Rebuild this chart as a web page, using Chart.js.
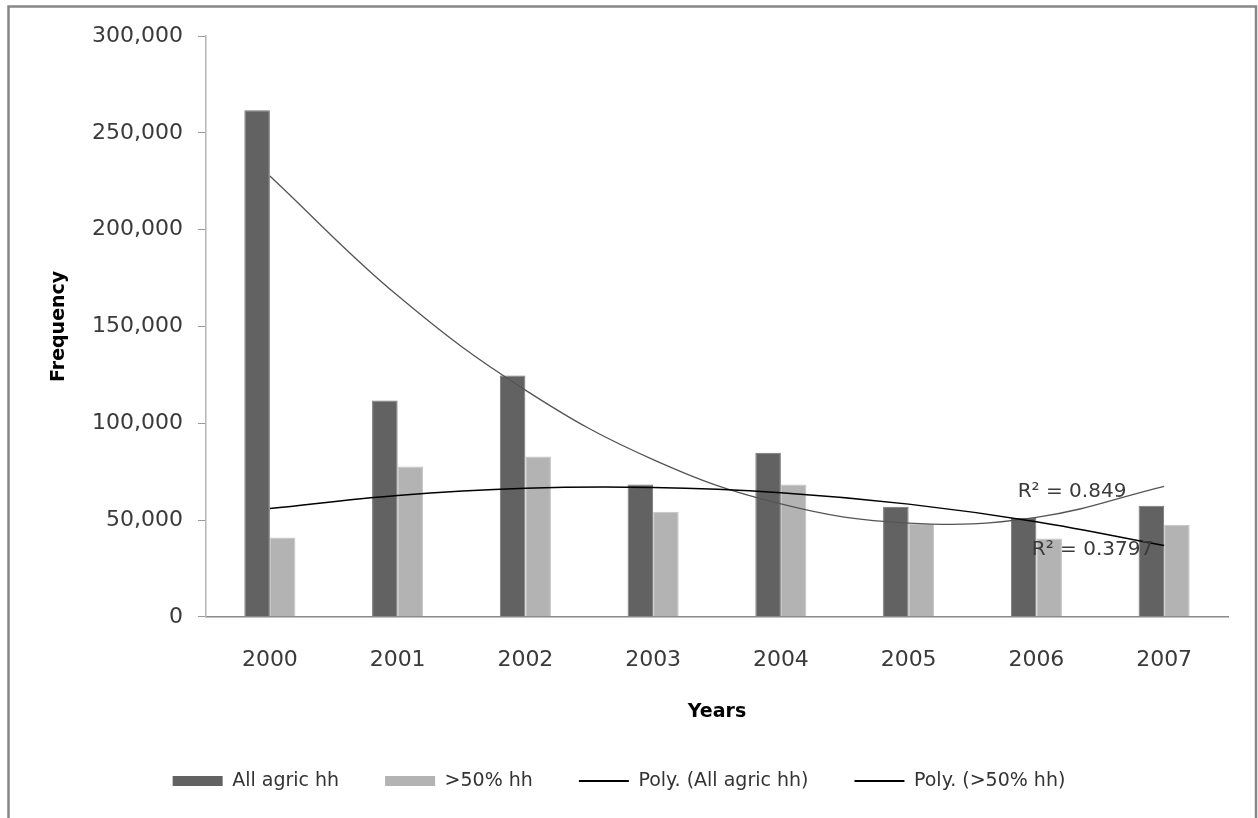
<!DOCTYPE html>
<html>
<head>
<meta charset="utf-8">
<style>
  html, body { margin: 0; padding: 0; background: #fff; }
  #wrap { position: relative; width: 1258px; height: 818px; }
</style>
<script src="https://cdn.jsdelivr.net/npm/chart.js@4.4.1/dist/chart.umd.min.js"></script>
</head>
<body>
<div id="wrap"><canvas id="c" width="1258" height="818"></canvas></div>
<script>
// ---- Data ----
const years = ['2000', '2001', '2002', '2003', '2004', '2005', '2006', '2007'];
const allAgricHH = [261700, 111700, 124700, 68300, 84800, 56900, 51000, 57400];
const over50HH   = [40900, 77600, 82800, 54300, 68300, 47900, 40500, 47600];
// Polynomial (order 2) trendline values read at each year
const polyAllAgric = [227700, 165900, 117100, 81200, 58300, 48400, 51400, 67400];
const polyOver50   = [55900, 62700, 66400, 66800, 64100, 58200, 49100, 36800];
const seriesNames = ['All agric hh', '>50% hh', 'Poly. (All agric hh)', 'Poly. (>50% hh)'];
const yTickValues = [0, 50000, 100000, 150000, 200000, 250000, 300000];
const rSquaredLabels = ['R\u00B2 = 0.849', 'R\u00B2 = 0.3797'];

const FONT = "'DejaVu Sans', sans-serif";

const framePlugin = {
  id: 'frame',
  beforeDraw(chart) {
    const ctx = chart.ctx;
    ctx.save();
    ctx.fillStyle = '#ffffff';
    ctx.fillRect(0, 0, chart.width, chart.height);
    ctx.strokeStyle = '#878787';
    ctx.lineWidth = 2.5;
    ctx.strokeRect(8.5, 6.5, 1247.5, 840);
    ctx.restore();
  }
};

const r2Plugin = {
  id: 'r2labels',
  afterDatasetsDraw(chart) {
    const ctx = chart.ctx;
    const xs = chart.scales.x, ys = chart.scales.y;
    const spots = [
      { text: rSquaredLabels[0], xi: 5.854, yv: 64650 },
      { text: rSquaredLabels[1], xi: 5.964, yv: 34650 }
    ];
    ctx.save();
    ctx.font = "20px " + FONT;
    ctx.fillStyle = '#3a3a3a';
    ctx.textAlign = 'left';
    ctx.textBaseline = 'middle';
    spots.forEach(s => {
      ctx.fillText(s.text, xs.getPixelForValue(s.xi), ys.getPixelForValue(s.yv));
    });
    ctx.restore();
  }
};

const ctx = document.getElementById('c').getContext('2d');
new Chart(ctx, {
  data: {
    labels: years,
    datasets: [
      {
        type: 'bar', label: seriesNames[0], data: allAgricHH,
        backgroundColor: '#626262', borderColor: '#767676', borderWidth: 1,
        categoryPercentage: 0.4, barPercentage: 1.0, order: 1
      },
      {
        type: 'bar', label: seriesNames[1], data: over50HH,
        backgroundColor: '#b3b3b3', borderColor: '#c4c4c4', borderWidth: 1,
        categoryPercentage: 0.4, barPercentage: 1.0, order: 2
      },
      {
        type: 'line', label: seriesNames[2], data: polyAllAgric,
        borderColor: '#555555', borderWidth: 1.3, pointRadius: 0, tension: 0.4,
        fill: false, order: -1
      },
      {
        type: 'line', label: seriesNames[3], data: polyOver50,
        borderColor: '#000000', borderWidth: 1.5, pointRadius: 0, tension: 0.4,
        fill: false, order: -2
      }
    ]
  },
  options: {
    responsive: false,
    animation: false,
    layout: { padding: { left: 10, right: 30, top: 36, bottom: 17.6 } },
    plugins: {
      tooltip: { enabled: false },
      legend: {
        display: true,
        position: 'bottom',
        labels: {
          usePointStyle: true,
          pointStyleWidth: 50,
          boxHeight: 10,
          padding: 46,
          color: '#333333',
          font: { family: FONT, size: 19 },
          sort: (a, b) => a.datasetIndex - b.datasetIndex,
          generateLabels(chart) {
            const items = Chart.defaults.plugins.legend.labels.generateLabels(chart);
            items.forEach(it => {
              const ds = chart.data.datasets[it.datasetIndex];
              if (ds.type === 'bar') {
                it.pointStyle = 'rect';
                it.fillStyle = ds.backgroundColor;
                it.strokeStyle = ds.backgroundColor;
                it.lineWidth = 0;
              } else {
                it.pointStyle = 'line';
                it.strokeStyle = '#000000';
                it.lineWidth = 2;
              }
            });
            return items;
          }
        }
      }
    },
    scales: {
      x: {
        type: 'category',
        offset: true,
        grid: { display: true, drawOnChartArea: false, drawTicks: false },
        border: { display: true, color: '#8a8a8a', width: 1.5 },
        ticks: { color: '#3a3a3a', font: { family: FONT, size: 22 }, padding: 30, maxRotation: 0 },
        title: {
          display: true, text: 'Years', color: '#000',
          font: { family: FONT, size: 19, weight: 'bold' },
          padding: { top: 0, bottom: 2 }
        },
        afterFit(axis) { axis.height = 108.6; }
      },
      y: {
        type: 'linear',
        min: 0, max: 300000,
        afterBuildTicks(axis) { axis.ticks = yTickValues.map(v => ({ value: v })); },
        grid: { display: true, drawOnChartArea: false, drawTicks: true, tickLength: 8, color: '#9a9a9a' },
        border: { display: true, color: '#b5b5b5', width: 1.5 },
        ticks: {
          color: '#3a3a3a', font: { family: FONT, size: 22 }, padding: 15,
          callback: (v) => Number(v).toLocaleString('en-US')
        },
        title: {
          display: true, text: 'Frequency', color: '#000',
          font: { family: FONT, size: 19, weight: 'bold' },
          padding: { top: 37.6, bottom: 0 }
        },
        afterFit(axis) { axis.width = 196; }
      }
    }
  },
  plugins: [framePlugin, r2Plugin]
});
</script>
</body>
</html>
